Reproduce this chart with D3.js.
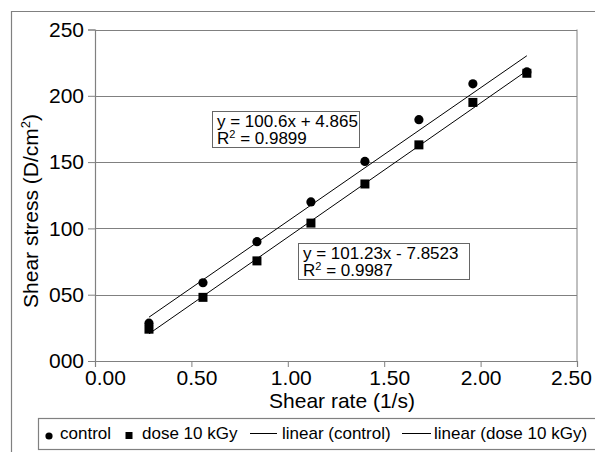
<!DOCTYPE html>
<html><head><meta charset="utf-8">
<script src="https://cdn.jsdelivr.net/npm/d3@7"></script>
<style>body{margin:0;background:#fff}svg{display:block;font-family:"Liberation Sans",Arial,sans-serif}</style>
</head><body><svg id="c" width="595" height="452"></svg>
<script>
const shearRate = [0.28, 0.56, 0.84, 1.12, 1.40, 1.68, 1.96, 2.24];
const control = [28.5, 59, 90, 120, 150.5, 182, 209, 218];
const dose10 = [24, 48, 75.5, 104, 133.5, 163, 195, 217];
const fitControl = {slope: 100.6, intercept: 4.865, label: "y = 100.6x + 4.865", r2: "0.9899"};
const fitDose = {slope: 101.23, intercept: -7.8523, label: "y = 101.23x - 7.8523", r2: "0.9987"};
const xTicks = [0, 0.5, 1.0, 1.5, 2.0, 2.5];
const yTicks = [0, 50, 100, 150, 200, 250];
const legendLabels = ["control", "dose 10 kGy", "linear (control)", "linear (dose 10 kGy)"];

const svg = d3.select("#c");
const grey = "#808080";
const x = d3.scaleLinear().domain([0, 2.5]).range([95, 577]);
const y = d3.scaleLinear().domain([0, 250]).range([361, 29.5]);

// outer frame
svg.append("path").attr("d", "M11.5,452 V11.5 H595").attr("fill", "none").attr("stroke", grey).attr("stroke-width", 1.2);

// gridlines
svg.append("g").selectAll("line").data(yTicks.filter(d => d > 0)).join("line")
  .attr("x1", x(0)).attr("x2", x(2.5)).attr("y1", d => Math.round(y(d)) + 0.5).attr("y2", d => Math.round(y(d)) + 0.5)
  .attr("stroke", grey).attr("stroke-width", 1);
svg.append("line").attr("x1", x(2.5)).attr("x2", x(2.5)).attr("y1", y(250)).attr("y2", y(0)).attr("stroke", grey);

// axes
const yAxis = svg.append("g").attr("transform", `translate(${x(0)},0)`)
  .call(d3.axisLeft(y).tickValues(yTicks).tickFormat(d3.format("03d")).tickSize(7).tickPadding(4));
const xAxis = svg.append("g").attr("transform", `translate(0,${y(0)})`)
  .call(d3.axisBottom(x).tickValues(xTicks).tickFormat(d3.format(".2f")).tickSize(6).tickPadding(3));
[yAxis, xAxis].forEach(g => {
  g.select(".domain").attr("stroke", grey).attr("stroke-width", 1.2);
  g.selectAll(".tick line").attr("stroke", grey);
  g.selectAll("text").attr("font-size", 21).attr("fill", "#000").attr("font-family", "Liberation Sans, Arial, sans-serif");
});
const xLabelShift = [10, 5, 3, 5, 0, -6];
xAxis.selectAll(".tick text").attr("dx", (d, i) => xLabelShift[i]);

// regression lines
const fits = [fitControl, fitDose];
const x0 = d3.min(shearRate), x1 = d3.max(shearRate);
svg.append("g").selectAll("line").data(fits).join("line")
  .attr("x1", x(x0)).attr("y1", f => y(f.slope * x0 + f.intercept))
  .attr("x2", x(x1)).attr("y2", f => y(f.slope * x1 + f.intercept))
  .attr("stroke", "#000").attr("stroke-width", 1);

// points
svg.append("g").selectAll("circle").data(shearRate).join("circle")
  .attr("cx", d => x(d)).attr("cy", (d, i) => y(control[i])).attr("r", 4.6).attr("fill", "#000");
svg.append("g").selectAll("rect").data(shearRate).join("rect")
  .attr("x", d => x(d) - 4.5).attr("y", (d, i) => y(dose10[i]) - 4.5).attr("width", 9).attr("height", 9).attr("fill", "#000");

// annotation boxes
const boxes = [
  {fit: fitControl, x: 212, y: 111, w: 147, h: 36},
  {fit: fitDose, x: 298, y: 243, w: 171, h: 36}
];
boxes.forEach(b => {
  const g = svg.append("g");
  g.append("rect").attr("x", b.x + 0.5).attr("y", b.y + 0.5).attr("width", b.w).attr("height", b.h)
    .attr("fill", "#fff").attr("stroke", "#666").attr("stroke-width", 1);
  g.append("text").attr("x", b.x + 5).attr("y", b.y + 15.5).attr("font-size", 17).text(b.fit.label);
  const t = g.append("text").attr("x", b.x + 5).attr("y", b.y + 33).attr("font-size", 17);
  t.append("tspan").text("R");
  t.append("tspan").attr("font-size", 11).attr("dy", -6).text("2");
  t.append("tspan").attr("dy", 6).text(" = " + b.fit.r2);
});

// axis titles
svg.append("text").attr("x", 342).attr("y", 408).attr("text-anchor", "middle").attr("font-size", 21).text("Shear rate (1/s)");
const yt = svg.append("text").attr("transform", "translate(38,211) rotate(-90)").attr("text-anchor", "middle").attr("font-size", 21);
yt.append("tspan").text("Shear stress (D/cm");
yt.append("tspan").attr("font-size", 13).attr("dy", -8).text("2");
yt.append("tspan").attr("dy", 8).text(")");

// legend
const lg = svg.append("g");
lg.append("rect").attr("x", 38.5).attr("y", 418.5).attr("width", 570).attr("height", 31)
  .attr("fill", "none").attr("stroke", grey).attr("stroke-width", 1.2);
const ly = 439;
lg.append("circle").attr("cx", 49).attr("cy", ly - 3).attr("r", 3.6).attr("fill", "#000");
lg.append("text").attr("x", 60).attr("y", ly).attr("font-size", 17).text(legendLabels[0]);
lg.append("rect").attr("x", 125.5).attr("y", ly - 7).attr("width", 7).attr("height", 7).attr("fill", "#000");
lg.append("text").attr("x", 142).attr("y", ly).attr("font-size", 17).text(legendLabels[1]);
lg.append("line").attr("x1", 250).attr("x2", 277).attr("y1", ly - 5.5).attr("y2", ly - 5.5).attr("stroke", "#000");
lg.append("text").attr("x", 282).attr("y", ly).attr("font-size", 17).text(legendLabels[2]);
lg.append("line").attr("x1", 402).attr("x2", 431).attr("y1", ly - 5.5).attr("y2", ly - 5.5).attr("stroke", "#000");
lg.append("text").attr("x", 434).attr("y", ly).attr("font-size", 17).text(legendLabels[3]);
</script></body></html>
